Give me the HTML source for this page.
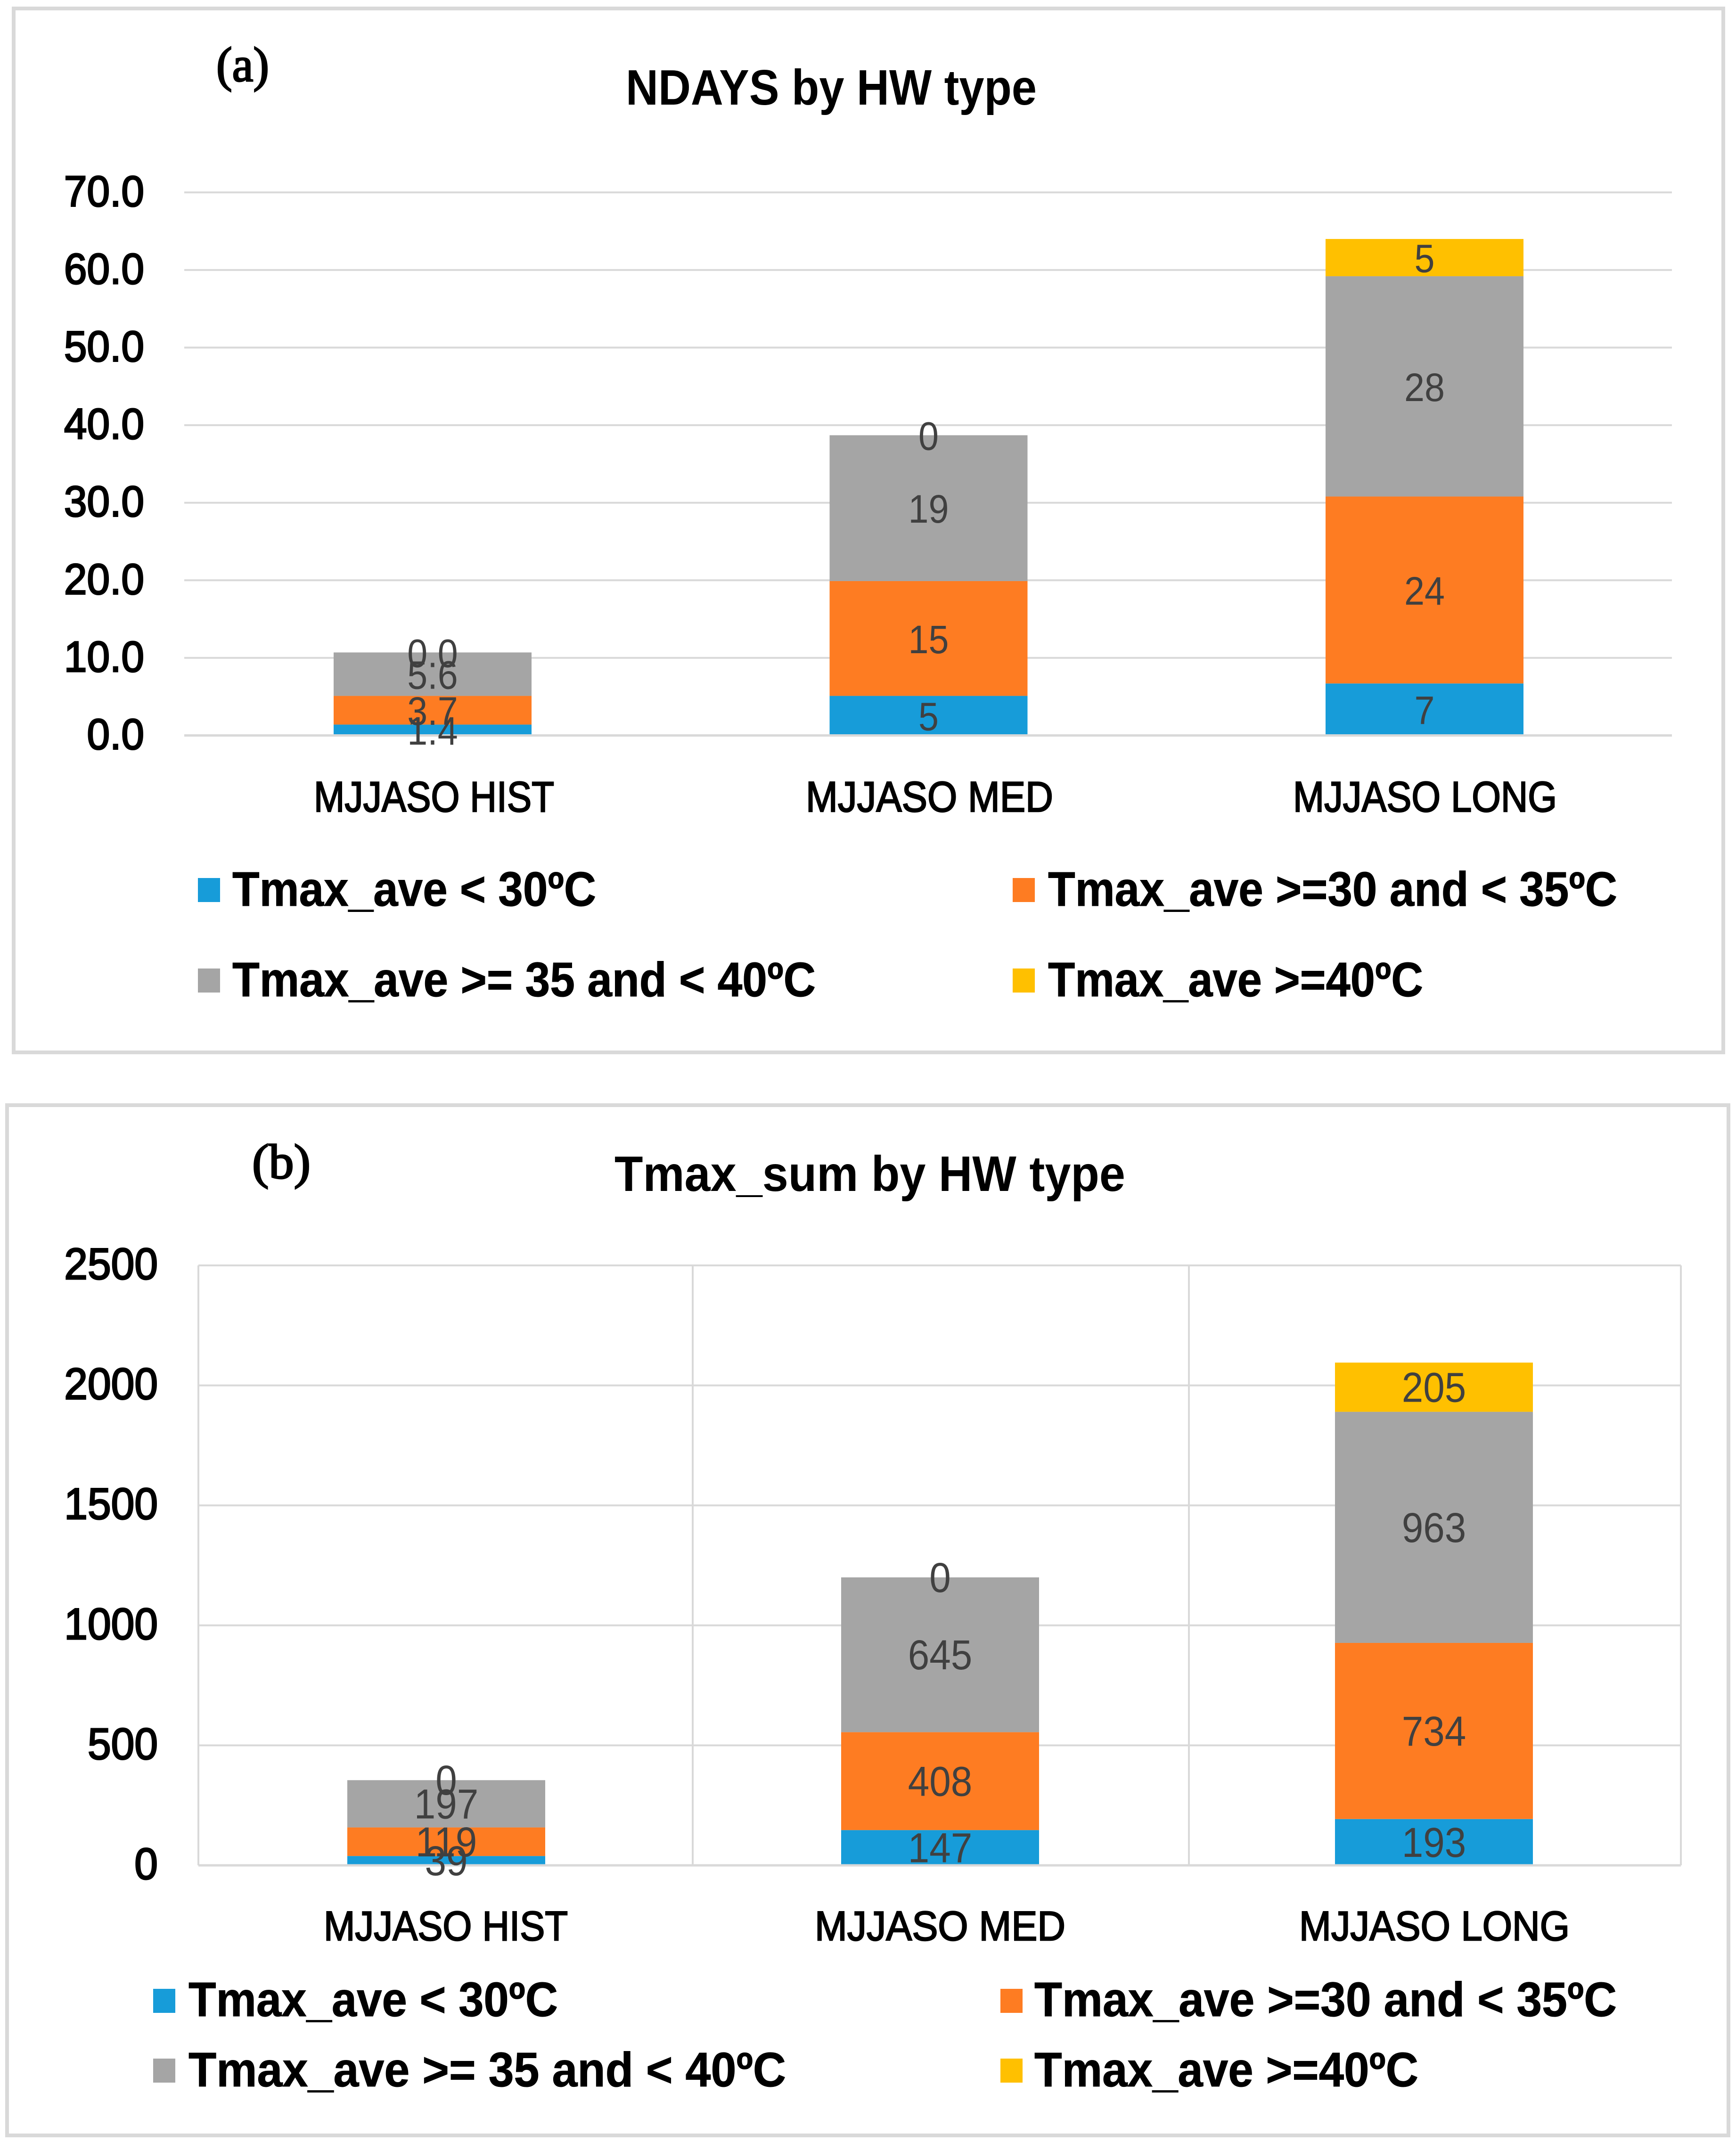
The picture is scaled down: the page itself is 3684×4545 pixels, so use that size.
<!DOCTYPE html>
<html lang="en">
<head>
<meta charset="utf-8">
<title>NDAYS and Tmax_sum by HW type</title>
<style>
html,body{margin:0;padding:0;background:#fff;}
svg{display:block;}
text{font-family:"Liberation Sans",sans-serif;}
.serif{font-family:"Liberation Serif",serif;}
</style>
</head>
<body>
<svg id="figure" xmlns="http://www.w3.org/2000/svg" width="3684" height="4545" viewBox="0 0 3684 4545">
  <rect x="0" y="0" width="3684" height="4545" fill="#ffffff"/>
  <rect x="29" y="18" width="3628" height="2215" fill="none" stroke="#d9d9d9" stroke-width="8"/>
  <rect x="15" y="2345" width="3653" height="2186" fill="none" stroke="#d9d9d9" stroke-width="8"/>

  <text class="serif" x="459" y="172" font-size="104" fill="#000" stroke="#000" stroke-width="3" textLength="112" lengthAdjust="spacingAndGlyphs">(a)</text>
  <text class="serif" x="535" y="2500" font-size="104" fill="#000" stroke="#000" stroke-width="3" textLength="124" lengthAdjust="spacingAndGlyphs">(b)</text>

  <text x="1328" y="222" font-size="106" font-weight="bold" fill="#000" textLength="872" lengthAdjust="spacingAndGlyphs">NDAYS by HW type</text>
  <text x="1304" y="2527" font-size="106" font-weight="bold" fill="#000" textLength="1084" lengthAdjust="spacingAndGlyphs">Tmax_sum by HW type</text>

  <g id="chart-a"></g>
  <g id="chart-b"></g>

  <g font-size="103" font-weight="bold" fill="#000" stroke="#000" stroke-width="1">
    <g>
      <rect x="420" y="1863" width="47" height="51" fill="#179cd9" stroke="none"/>
      <text x="493" y="1922" textLength="772" lengthAdjust="spacingAndGlyphs">Tmax_ave &lt; 30ºC</text>
    </g>
    <g>
      <rect x="2149" y="1863" width="47" height="51" fill="#fe7c22" stroke="none"/>
      <text x="2224" y="1922" textLength="1208" lengthAdjust="spacingAndGlyphs">Tmax_ave &gt;=30 and &lt; 35ºC</text>
    </g>
    <g>
      <rect x="420" y="2055" width="47" height="51" fill="#a5a5a5" stroke="none"/>
      <text x="493" y="2114" textLength="1238" lengthAdjust="spacingAndGlyphs">Tmax_ave &gt;= 35 and &lt; 40ºC</text>
    </g>
    <g>
      <rect x="2149" y="2055" width="47" height="51" fill="#ffc000" stroke="none"/>
      <text x="2224" y="2114" textLength="796" lengthAdjust="spacingAndGlyphs">Tmax_ave &gt;=40ºC</text>
    </g>
  </g>

  <g font-size="103" font-weight="bold" fill="#000" stroke="#000" stroke-width="1">
    <g>
      <rect x="325" y="4220" width="47" height="51" fill="#179cd9" stroke="none"/>
      <text x="400" y="4278" textLength="784" lengthAdjust="spacingAndGlyphs">Tmax_ave &lt; 30ºC</text>
    </g>
    <g>
      <rect x="2123" y="4220" width="47" height="51" fill="#fe7c22" stroke="none"/>
      <text x="2195" y="4278" textLength="1236" lengthAdjust="spacingAndGlyphs">Tmax_ave &gt;=30 and &lt; 35ºC</text>
    </g>
    <g>
      <rect x="325" y="4368" width="47" height="51" fill="#a5a5a5" stroke="none"/>
      <text x="400" y="4427" textLength="1268" lengthAdjust="spacingAndGlyphs">Tmax_ave &gt;= 35 and &lt; 40ºC</text>
    </g>
    <g>
      <rect x="2123" y="4368" width="47" height="51" fill="#ffc000" stroke="none"/>
      <text x="2195" y="4427" textLength="815" lengthAdjust="spacingAndGlyphs">Tmax_ave &gt;=40ºC</text>
    </g>
  </g>
</svg>

<script>
// Shared
const categories = ['MJJASO HIST', 'MJJASO MED', 'MJJASO LONG'];
const seriesNames = ['below-30', '30-to-35', '35-to-40', 'above-40'];

// Chart (a): NDAYS by HW type
const ticksA = [0, 10, 20, 30, 40, 50, 60, 70];
const ndaysBelow30 = [1.4, 5.1, 6.7];
const ndays30to35 = [3.7, 14.8, 24.1];
const ndays35to40 = [5.6, 18.8, 28.4];
const ndaysAbove40 = [0.0, 0, 4.8];

// Chart (b): Tmax_sum by HW type
const ticksB = [0, 500, 1000, 1500, 2000, 2500];
const sumBelow30 = [39, 147, 193];
const sum30to35 = [119, 408, 734];
const sum35to40 = [197, 645, 963];
const sumAbove40 = [0, 0, 205];

const SVGNS = 'http://www.w3.org/2000/svg';
const seriesColors = ['#179cd9', '#fe7c22', '#a5a5a5', '#ffc000'];

function mk(parent, tag, attrs, content) {
  const el = document.createElementNS(SVGNS, tag);
  for (const k in attrs) el.setAttribute(k, attrs[k]);
  if (content !== undefined) el.textContent = content;
  parent.appendChild(el);
  return el;
}

function condense(el, factor) {
  el.setAttribute('textLength', (el.getComputedTextLength() * factor).toFixed(1));
  el.setAttribute('lengthAdjust', 'spacingAndGlyphs');
}

function drawChart(root, cfg) {
  const y = v => cfg.y0 - v * cfg.pxPerUnit;
  const barX = i => cfg.barLeft + i * cfg.barStep;
  const barCenter = i => barX(i) + cfg.barWidth / 2;
  const labelCenter = i => cfg.catCenter0 + i * cfg.catStep;

  // gridlines + tick labels
  cfg.ticks.forEach(t => {
    if (t !== 0) {
      const g = mk(root, 'line', { x1: cfg.plotLeft, x2: cfg.plotRight, y1: y(t), y2: y(t), stroke: '#d9d9d9', 'stroke-width': 4 });
      
      
    }
    const lbl = mk(root, 'text', { x: cfg.tickRight, y: y(t) + cfg.tickDrop, 'text-anchor': 'end', 'font-size': cfg.tickSize, fill: '#000', stroke: '#000', 'stroke-width': 3 }, cfg.tickText(t));
    
    
    condense(lbl, 0.95);
  });

  // vertical grid (chart b only)
  cfg.verticals.forEach(vx => {
    const g = mk(root, 'line', { x1: vx, x2: vx, y1: y(cfg.ticks[cfg.ticks.length - 1]), y2: cfg.y0, stroke: '#d9d9d9', 'stroke-width': 4 });
    
    
  });

  // stacked bars
  categories.forEach((cat, i) => {
    let base = 0;
    cfg.series.forEach((vals, s) => {
      const v = vals[i];
      const top = base + v;
      const r = mk(root, 'rect', { x: barX(i), y: y(top), width: cfg.barWidth, height: Math.max(0, y(base) - y(top)), fill: seriesColors[s] });
      
      
      base = top;
    });
  });

  // baseline over the bars
  const axis = mk(root, 'line', { x1: cfg.plotLeft, x2: cfg.plotRight, y1: cfg.y0, y2: cfg.y0, stroke: '#d9d9d9', 'stroke-width': 5 });
  
  

  // value labels
  categories.forEach((cat, i) => {
    let base = 0;
    cfg.series.forEach((vals, s) => {
      const v = vals[i];
      const mid = base + v / 2;
      const t = mk(root, 'text', { x: barCenter(i), y: y(mid) + cfg.valueDrop, 'text-anchor': 'middle', 'font-size': cfg.valueSize, fill: '#404040' }, cfg.valueText(i, v));
      
      
      condense(t, 0.92);
      base += v;
    });
  });

  // category labels
  categories.forEach((cat, i) => {
    const t = mk(root, 'text', { x: labelCenter(i), y: cfg.catBaseline, 'text-anchor': 'middle', 'font-size': cfg.catSize, fill: '#000', stroke: '#000', 'stroke-width': 2.5, textLength: cfg.catWidths[cat], lengthAdjust: 'spacingAndGlyphs' }, cat);
    
    
  });
}

drawChart(document.getElementById('chart-a'), {
  ticks: ticksA,
  tickText: t => t.toFixed(1),
  series: [ndaysBelow30, ndays30to35, ndays35to40, ndaysAbove40],
  valueText: (i, v) => i === 0 ? v.toFixed(1) : String(Math.round(v)),
  y0: 1560.5, pxPerUnit: 16.46,
  plotLeft: 391, plotRight: 3548,
  barLeft: 708, barStep: 1052.5, barWidth: 420,
  tickRight: 306, tickDrop: 29, tickSize: 92,
  valueSize: 84, valueDrop: 31,
  catBaseline: 1722, catSize: 91,
  catCenter0: 921, catStep: 1051.5,
  catWidths: { 'MJJASO HIST': 510, 'MJJASO MED': 525, 'MJJASO LONG': 560 },
  verticals: []
});

drawChart(document.getElementById('chart-b'), {
  ticks: ticksB,
  tickText: t => String(t),
  series: [sumBelow30, sum30to35, sum35to40, sumAbove40],
  valueText: (i, v) => String(v),
  y0: 3958, pxPerUnit: 0.5092,
  plotLeft: 421, plotRight: 3567,
  barLeft: 737, barStep: 1048, barWidth: 420,
  tickRight: 335, tickDrop: 29, tickSize: 94,
  valueSize: 89, valueDrop: 31,
  catBaseline: 4117, catSize: 88,
  catCenter0: 946, catStep: 1049,
  catWidths: { 'MJJASO HIST': 518, 'MJJASO MED': 532, 'MJJASO LONG': 574 },
  verticals: [421, 1470, 2523, 3567]
});
</script>
</body>
</html>
